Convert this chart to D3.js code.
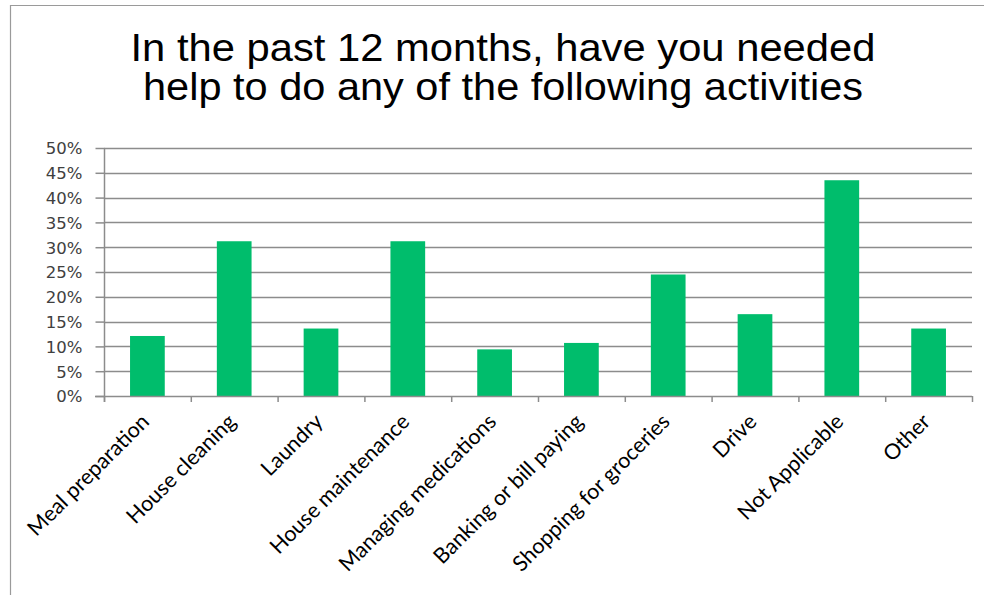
<!DOCTYPE html>
<html>
<head>
<meta charset="utf-8">
<script src="https://cdn.jsdelivr.net/npm/d3@7"></script>
<style>
  html, body { margin: 0; padding: 0; background: #fff; }
  svg { display: block; }
</style>
</head>
<body>
<svg id="chart" width="984" height="595"></svg>
<script>
const titleLines = ["In the past 12 months, have you needed", "help to do any of the following activities"];
const categories = ["Meal preparation", "House cleaning", "Laundry", "House maintenance", "Managing medications", "Banking or bill paying", "Shopping for groceries", "Drive", "Not Applicable", "Other"];
const values = [12.1, 31.2, 13.6, 31.2, 9.4, 10.7, 24.5, 16.5, 43.5, 13.6];
const yTicks = [0, 5, 10, 15, 20, 25, 30, 35, 40, 45, 50];

const svg = d3.select("#chart");
const W = 984, H = 595;
const plot = { left: 104, right: 972, top: 148, bottom: 396 };

// outer frame
svg.append("path")
  .attr("d", `M10.5,${H + 2} L10.5,5.5 L${W + 2},5.5`)
  .attr("fill", "none").attr("stroke", "#9a9a9a").attr("stroke-width", 1.2);

// title
const titleWidths = [745, 720];
svg.append("g").selectAll("text").data(titleLines).join("text")
  .attr("x", 503).attr("y", (d, i) => 61 + i * 39)
  .attr("text-anchor", "middle")
  .attr("font-family", "'Liberation Sans', Arial, sans-serif")
  .attr("font-size", 38.5)
  .attr("textLength", (d, i) => titleWidths[i])
  .attr("lengthAdjust", "spacingAndGlyphs")
  .attr("fill", "#000")
  .text(d => d);

const x = d3.scaleBand().domain(categories).range([plot.left, plot.right]).padding(0);
const y = d3.scaleLinear().domain([0, 50]).range([plot.bottom, plot.top]);

// gridlines
svg.append("g").selectAll("line").data(yTicks.filter(t => t > 0)).join("line")
  .attr("x1", plot.left).attr("x2", plot.right)
  .attr("y1", d => Math.round(y(d)) + 0.5).attr("y2", d => Math.round(y(d)) + 0.5)
  .attr("stroke", "#8c8c8c").attr("stroke-width", 1.5);

// bars
const bw = x.bandwidth() * 0.4;
svg.append("g").selectAll("rect").data(values).join("rect")
  .attr("x", (d, i) => x(categories[i]) + x.bandwidth() / 2 - bw / 2)
  .attr("width", bw)
  .attr("y", d => y(d))
  .attr("height", d => y(0) - y(d))
  .attr("fill", "#00bd6c");

// y axis
const yAxis = d3.axisLeft(y).tickValues(yTicks).tickFormat(d => d + "%").tickSize(9).tickPadding(13);
const gy = svg.append("g").attr("transform", `translate(${plot.left + 0.5},0)`).call(yAxis);
gy.select(".domain").attr("stroke", "#8c8c8c").attr("stroke-width", 1.5).attr("d", `M0,${plot.top}V${plot.bottom + 6}`);
gy.selectAll(".tick line").attr("stroke", "#8c8c8c").attr("stroke-width", 1.5);
gy.selectAll(".tick text")
  .attr("font-family", "'DejaVu Sans', Verdana, sans-serif")
  .attr("font-size", 16.5)
  .attr("fill", "#404040")
  .attr("dy", "0.36em");

// x axis line
svg.append("line")
  .attr("x1", plot.left - 9).attr("x2", plot.right)
  .attr("y1", plot.bottom + 0.5).attr("y2", plot.bottom + 0.5)
  .attr("stroke", "#8c8c8c").attr("stroke-width", 1.5);

// x ticks at category boundaries
const boundaries = categories.map(c => x(c)).concat([x.range()[1]]);
svg.append("g").selectAll("line").data(boundaries).join("line")
  .attr("x1", d => d + 0.5).attr("x2", d => d + 0.5)
  .attr("y1", plot.bottom).attr("y2", plot.bottom + 6)
  .attr("stroke", "#8c8c8c").attr("stroke-width", 1.5);

// x labels
svg.append("g").selectAll("text").data(categories).join("text")
  .attr("transform", d => `translate(${x(d) + x.bandwidth() / 2 + 3},${plot.bottom + 27}) rotate(-45)`)
  .attr("text-anchor", "end")
  .attr("font-family", "Lato, 'Open Sans', sans-serif")
  .attr("font-size", 21.5)
  .attr("fill", "#000")
  .text(d => d);
</script>
</body>
</html>
